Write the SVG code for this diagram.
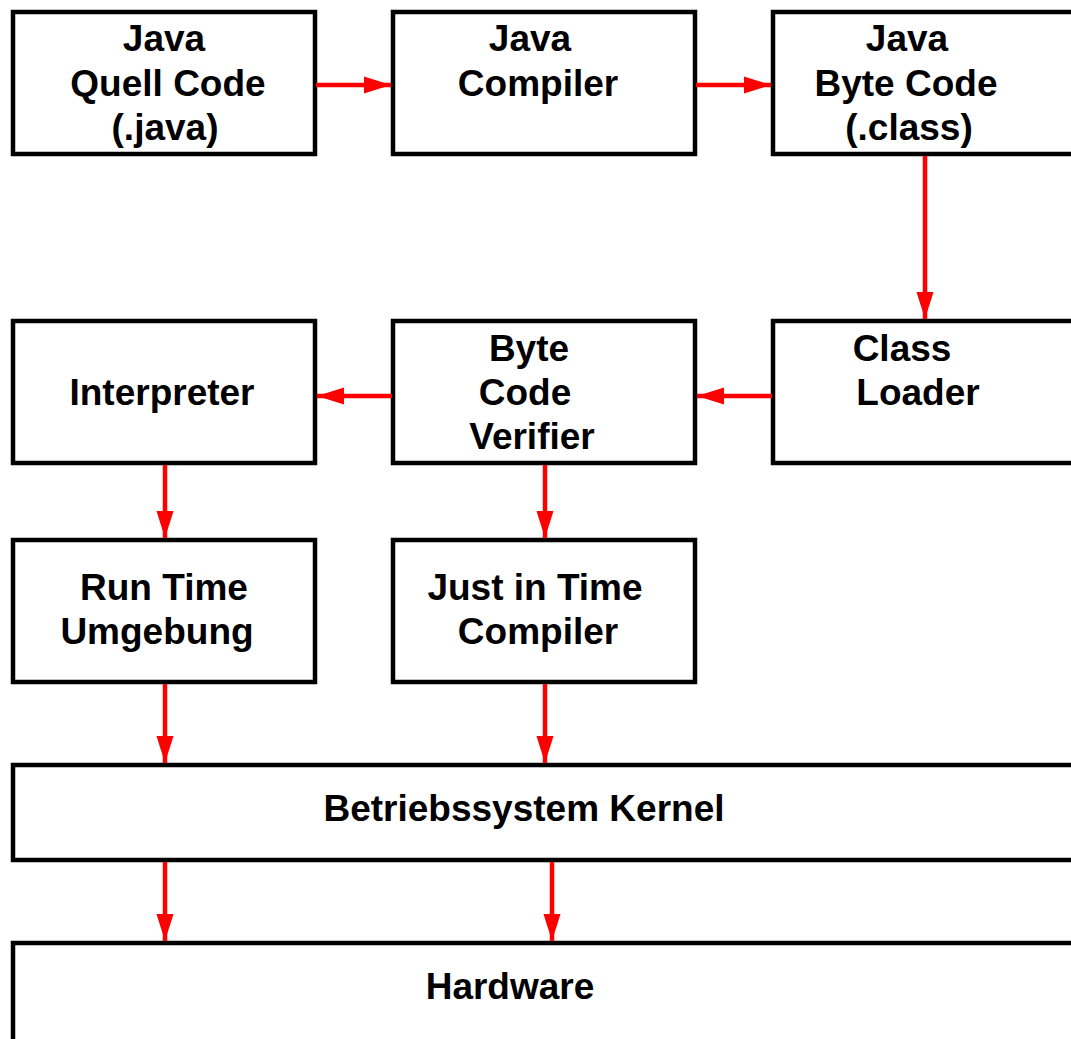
<svg xmlns="http://www.w3.org/2000/svg" width="1071" height="1039" viewBox="0 0 1071 1039">
<style>
.box{fill:#fff;stroke:#000;stroke-width:4.5}
.t{font-family:"Liberation Sans",Arial,sans-serif;font-weight:bold;font-size:37px;fill:#000;text-anchor:middle}
.c{stroke:#f00;stroke-width:4.5;fill:none;marker-end:url(#ah)}
</style>
<defs>
<marker id="ah" markerUnits="userSpaceOnUse" markerWidth="27" markerHeight="18" viewBox="0 0 27 18" refX="27" refY="9" orient="auto">
<path d="M0,0.5 L27,9 L0,17.5 Z" fill="#f00"/>
</marker>
</defs>
<rect width="1071" height="1039" fill="#fff"/>
<g id="quell"><rect class="box" x="13" y="12" width="302" height="142"/>
<text class="t" x="164" y="51">Java</text><text class="t" x="168" y="96">Quell Code</text><text class="t" x="165" y="140">(.java)</text></g>
<g id="compiler"><rect class="box" x="393" y="12" width="302" height="142"/>
<text class="t" x="530" y="51">Java</text><text class="t" x="538" y="96">Compiler</text></g>
<g id="bytecode"><rect class="box" x="773" y="12" width="310" height="142"/>
<text class="t" x="907" y="51">Java</text><text class="t" x="906" y="96">Byte Code</text><text class="t" x="909" y="140">(.class)</text></g>
<g id="interpreter"><rect class="box" x="13" y="321" width="302" height="142"/>
<text class="t" x="162" y="405">Interpreter</text></g>
<g id="verifier"><rect class="box" x="393" y="321" width="302" height="142"/>
<text class="t" x="529" y="361">Byte</text><text class="t" x="525" y="405">Code</text><text class="t" x="532" y="449">Verifier</text></g>
<g id="loader"><rect class="box" x="773" y="321" width="310" height="142"/>
<text class="t" x="902" y="361">Class</text><text class="t" x="918" y="405">Loader</text></g>
<g id="runtime"><rect class="box" x="13" y="540" width="302" height="142"/>
<text class="t" x="164" y="600">Run Time</text><text class="t" x="157" y="644">Umgebung</text></g>
<g id="jit"><rect class="box" x="393" y="540" width="302" height="142"/>
<text class="t" x="535" y="600">Just in Time</text><text class="t" x="538" y="644">Compiler</text></g>
<g id="kernel"><rect class="box" x="13" y="765" width="1070" height="95"/>
<text class="t" x="524" y="821">Betriebssystem Kernel</text></g>
<g id="hardware"><rect class="box" x="13" y="943" width="1070" height="110"/>
<text class="t" x="510" y="999">Hardware</text></g>
<g id="connectors">
<line class="c" x1="316" y1="85" x2="391" y2="85"/>
<line class="c" x1="696" y1="85" x2="771" y2="85"/>
<line class="c" x1="925" y1="156" x2="925" y2="319"/>
<line class="c" x1="772" y1="396" x2="697" y2="396"/>
<line class="c" x1="392" y1="396" x2="317" y2="396"/>
<line class="c" x1="165" y1="465" x2="165" y2="538"/>
<line class="c" x1="545" y1="465" x2="545" y2="538"/>
<line class="c" x1="165" y1="684" x2="165" y2="763"/>
<line class="c" x1="545" y1="684" x2="545" y2="763"/>
<line class="c" x1="165" y1="862" x2="165" y2="941"/>
<line class="c" x1="552" y1="862" x2="552" y2="941"/>
</g>
</svg>
